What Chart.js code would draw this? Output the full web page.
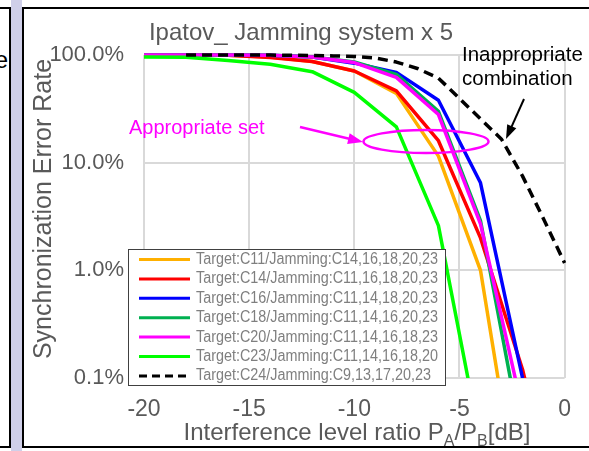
<!DOCTYPE html>
<html>
<head>
<meta charset="utf-8">
<script src="https://cdn.jsdelivr.net/npm/chart.js@4.4.0/dist/chart.umd.min.js"></script>
<style>
  body { margin: 0; background: #fff; }
  #wrap { position: relative; width: 589px; height: 451px; overflow: hidden; font-family: 'Liberation Sans', Arial, sans-serif; }
  #leftPanel { position: absolute; left: -10px; top: 7px; width: 17px; height: 437px; border: 2px solid #000; }
  #leftText { position: absolute; right: 581px; top: 46px; font-size: 24px; color: #000; }
  #band { position: absolute; left: 11px; top: 0; width: 11px; height: 451px; background: #cfcfe9; }
  #panel { position: absolute; left: 22px; top: 7px; width: 600px; height: 437px; border: 2px solid #000; background: #fff; }
  #chart { position: absolute; left: 0; top: 0; }
</style>
</head>
<body>
<div id="wrap">
  <div id="leftPanel"></div>
  <div id="leftText">e</div>
  <div id="band"></div>
  <div id="panel"></div>
  <canvas id="chart" width="589" height="451"></canvas>
</div>
<script>
// x positions (dB)
const xSolid = [-20, -18, -16, -14, -12, -10, -8, -6, -4, -2, 0];
const xDashed = [-18, -17, -16, -15, -14, -13, -12, -11, -10, -9, -8, -7, -6, -5, -4, -3, -2, -1, 0];

// error rate in % (points below 0.1% run off the axis)
const c11 = [100, 100, 99.5, 96, 87, 71, 44, 11.5, 1.0, 0.004, null];
const c14 = [100, 100, 99.5, 95, 87, 71, 46.5, 16, 2.0, 0.12, 0.003];
const c16 = [100, 100, 100, 99.5, 96, 84, 69, 38, 6.5, 0.1, null];
const c18 = [100, 100, 100, 99.5, 96, 86, 66, 30, 2.9, 0.025, null];
const c20 = [100, 100, 100, 99.5, 96, 85, 62, 28, 2.7, 0.05, null];
const c23 = [96, 95.5, 89, 82, 70, 45, 21.5, 2.6, 0.025, null, null];
const c24 = [100, 100, 100, 100, 99.8, 99.5, 99, 98, 97, 94, 86, 75, 61, 39.5, 25.5, 16.5, 7.5, 3.0, 1.17];

const seriesNames = [
  'Target:C11/Jamming:C14,16,18,20,23',
  'Target:C14/Jamming:C11,16,18,20,23',
  'Target:C16/Jamming:C11,14,18,20,23',
  'Target:C18/Jamming:C11,14,16,20,23',
  'Target:C20/Jamming:C11,14,16,18,23',
  'Target:C23/Jamming:C11,14,16,18,20',
  'Target:C24/Jamming:C9,13,17,20,23'
];
const seriesColors = ['#ffb000', '#ff0000', '#0000ff', '#00b050', '#ff00ff', '#00ff00', '#000000'];

const xTicks = [-20, -15, -10, -5, 0];
const yTicks = [0.1, 1, 10, 100];
const yTickLabels = ['0.1%', '1.0%', '10.0%', '100.0%'];

const FONT = "'Liberation Sans', Arial, sans-serif";

const allSeries = [c11, c14, c16, c18, c20, c23, c24];
const datasets = allSeries.map((vals, i) => {
  const xs = i === 6 ? xDashed : xSolid;
  return {
    label: seriesNames[i],
    data: vals.map((v, j) => ({ x: xs[j], y: v })),
    borderColor: seriesColors[i],
    backgroundColor: seriesColors[i],
    borderWidth: 3.5,
    borderDash: i === 6 ? [10, 6] : [],
    borderJoinStyle: 'round',
    pointRadius: 0,
    order: 6 - i,   // later series on top, like the original
    clip: { left: 3, top: 3, right: 3, bottom: 0 }
  };
});

function arrow(ctx, x1, y1, x2, y2, color, lw, hl, hw) {
  const a = Math.atan2(y2 - y1, x2 - x1);
  ctx.save();
  ctx.strokeStyle = color;
  ctx.fillStyle = color;
  ctx.lineWidth = lw;
  ctx.beginPath();
  ctx.moveTo(x1, y1);
  ctx.lineTo(x2 - hl * 0.8 * Math.cos(a), y2 - hl * 0.8 * Math.sin(a));
  ctx.stroke();
  ctx.translate(x2, y2);
  ctx.rotate(a);
  ctx.beginPath();
  ctx.moveTo(0, 0);
  ctx.lineTo(-hl, hw / 2);
  ctx.lineTo(-hl, -hw / 2);
  ctx.closePath();
  ctx.fill();
  ctx.restore();
}

const decor = {
  id: 'decor',
  afterDraw(chart) {
    const ctx = chart.ctx;
    const area = chart.chartArea;
    ctx.save();

    // title
    ctx.fillStyle = '#595959';
    ctx.font = '24px ' + FONT;
    ctx.textAlign = 'center';
    ctx.textBaseline = 'alphabetic';
    ctx.fillText('Ipatov_ Jamming system x 5', 301, 40);

    // y axis title
    ctx.save();
    ctx.translate(44, 209);
    ctx.rotate(-Math.PI / 2);
    ctx.font = '25px ' + FONT;
    ctx.textBaseline = 'middle';
    ctx.fillText('Synchronization Error Rate', 0, 0);
    ctx.restore();

    // x axis title with subscripts
    const parts = [['Interference level ratio P', 0], ['A', 1], ['/P', 0], ['B', 1], ['[dB]', 0]];
    const big = '24px ' + FONT, small = '16px ' + FONT;
    let tw = 0;
    parts.forEach(p => { ctx.font = p[1] ? small : big; tw += ctx.measureText(p[0]).width; });
    let tx = 357 - tw / 2;
    ctx.textAlign = 'left';
    parts.forEach(p => {
      ctx.font = p[1] ? small : big;
      ctx.fillText(p[0], tx, p[1] ? 446 : 440);
      tx += ctx.measureText(p[0]).width;
    });

    // legend box
    const lx = 128.5, ly = 249.5, lw = 317, lh = 136;
    ctx.fillStyle = '#fff';
    ctx.fillRect(lx, ly, lw, lh);
    ctx.strokeStyle = '#404040';
    ctx.lineWidth = 1;
    ctx.strokeRect(lx, ly, lw, lh);
    ctx.font = '16px ' + FONT;
    const k = 242 / ctx.measureText(seriesNames[0]).width;
    ctx.textBaseline = 'middle';
    seriesNames.forEach((name, i) => {
      const ry = 259.5 + i * 19.4;
      ctx.save();
      ctx.strokeStyle = seriesColors[i];
      ctx.lineWidth = 3;
      ctx.setLineDash(i === 6 ? [8, 5] : []);
      ctx.beginPath();
      ctx.moveTo(139, ry);
      ctx.lineTo(190, ry);
      ctx.stroke();
      ctx.restore();
      ctx.save();
      ctx.translate(196, ry);
      ctx.scale(k, 1);
      ctx.fillStyle = '#7f7f7f';
      ctx.fillText(name, 0, 0);
      ctx.restore();
    });

    // annotations
    ctx.fillStyle = '#ff00ff';
    ctx.font = '20px ' + FONT;
    ctx.textBaseline = 'alphabetic';
    ctx.fillText('Appropriate set', 129, 134);
    arrow(ctx, 300, 127, 363, 142, '#ff00ff', 2.5, 15, 11);
    ctx.strokeStyle = '#ff00ff';
    ctx.lineWidth = 2.5;
    ctx.beginPath();
    ctx.ellipse(426, 141.5, 62.5, 11.5, 0, 0, Math.PI * 2);
    ctx.stroke();

    ctx.fillStyle = '#000';
    ctx.font = '20.5px ' + FONT;
    ctx.fillText('Inappropriate', 462, 61);
    ctx.fillText('combination', 462, 85);
    arrow(ctx, 524, 99, 506, 139, '#000', 2, 14, 10);

    ctx.restore();
  }
};

new Chart(document.getElementById('chart'), {
  type: 'line',
  data: { datasets },
  options: {
    responsive: false,
    animation: false,
    devicePixelRatio: 1,
    layout: { padding: { top: 55, right: 19, bottom: 0, left: 0 } },
    plugins: { legend: { display: false }, tooltip: { enabled: false }, title: { display: false } },
    scales: {
      x: {
        type: 'linear',
        min: -20,
        max: 0,
        afterBuildTicks: s => { s.ticks = xTicks.map(v => ({ value: v })); },
        afterFit: s => { s.height = 73; },
        grid: { color: '#d9d9d9', lineWidth: 2, drawTicks: false },
        border: { display: false },
        ticks: { color: '#595959', font: { size: 23, family: FONT }, padding: 18, callback: v => String(v) }
      },
      y: {
        type: 'logarithmic',
        min: 0.1,
        max: 100,
        afterBuildTicks: s => { s.ticks = yTicks.map(v => ({ value: v })); },
        afterFit: s => { s.width = 144; },
        grid: { color: '#d9d9d9', lineWidth: 2, drawTicks: false },
        border: { display: false },
        ticks: { color: '#595959', font: { size: 22, family: FONT }, padding: 20,
          callback: v => yTickLabels[yTicks.indexOf(v)] }
      }
    }
  },
  plugins: [decor]
});
</script>
</body>
</html>
